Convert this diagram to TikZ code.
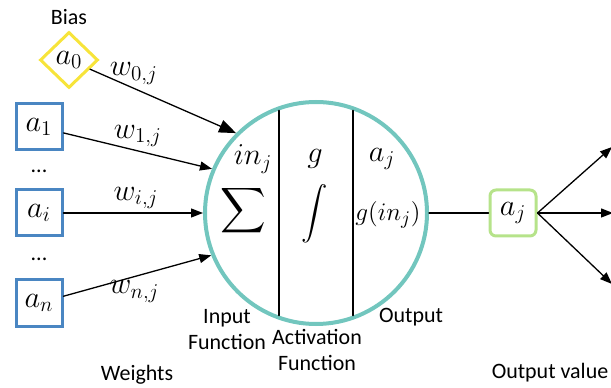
\documentclass[tikz,border=0pt]{standalone}
\usepackage{amsmath,amssymb}
\usepackage{fontspec}
\setmainfont{Carlito}
\usepackage{tikz}
\usetikzlibrary{arrows.meta,shapes.geometric}
\usepackage{xcolor}
\definecolor{biasyellow}{HTML}{F7E43A}
\definecolor{inblue}{HTML}{4A86C2}
\definecolor{cellteal}{HTML}{72C6BE}
\definecolor{outgreen}{HTML}{B6E38A}

\begin{document}
\begin{tikzpicture}[>={Triangle[length=2.4mm,width=1.8mm]},font=\fontsize{12.5}{14.8}\selectfont,line cap=round,
  mathfont/.style={font=\fontsize{18}{18}\selectfont},
  inbox/.style={draw=inblue,line width=0.06cm,minimum size=0.92cm,inner sep=0pt,mathfont},
  bigop/.style={inner sep=0pt,text height=0.42cm,text depth=0.16cm},
  wlabel/.style={mathfont,inner sep=2pt},
  wire/.style={line width=0.026cm}]
\useasboundingbox (0,0) rectangle (12.22,7.74);
\node (bias) at (1.38,7.40) {Bias};
\node[diamond,draw=biasyellow,line width=0.06cm,minimum width=1.16cm,minimum height=1.12cm,inner sep=0pt,mathfont] (a0) at (1.38,6.54) {$a_0$};
\node[inbox] (a1) at (0.78,5.20) {$a_1$};
\node[anchor=base] (dots1) at (0.78,4.28) {...};
\node[inbox] (ai) at (0.78,3.48) {$a_i$};
\node[anchor=base] (dots2) at (0.78,2.52) {...};
\node[inbox] (an) at (0.78,1.68) {$a_n$};
\node (weights) at (2.74,0.24) {Weights};
\node[circle,draw=cellteal,line width=0.08cm,minimum size=4.44cm] (cell) at (6.32,3.48) {};
\draw[line width=0.035cm] (5.58,5.53) -- (5.58,1.43);
\draw[line width=0.035cm] (7.06,5.53) -- (7.06,1.43);
\node[mathfont,inner sep=0pt] (inj) at (5.06,4.56) {$in_j$};
\node[bigop,font=\fontsize{18}{18}\selectfont] (sum) at (4.86,3.50) {$\displaystyle\sum$};
\node[mathfont,inner sep=0pt] (g) at (6.30,4.56) {$g$};
\node[bigop,font=\fontsize{15}{15}\selectfont] (integ) at (6.30,3.46) {$\displaystyle\int$};
\node[mathfont,inner sep=0pt] (aout) at (7.64,4.56) {$a_j$};
\node[font=\fontsize{15}{15}\selectfont,inner sep=0pt] (gin) at (7.76,3.44) {$g(in_j)$};
\node[align=center] (inputfn) at (4.54,1.14) {Input\\Function};
\node[align=center] (actfn) at (6.34,0.74) {Activation\\Function};
\node (output) at (8.22,1.40) {Output};
\draw[wire,->,>={Triangle[length=3.4mm,width=2.6mm]}] (a0) -- (cell.135) node[wlabel,pos=0.3,above] (w0) {$w_{0,j}$};
\draw[wire,->] (a1) -- (cell.157) node[wlabel,pos=0.5,above] (w1) {$w_{1,j}$};
\draw[wire,->] (ai) -- (cell.180) node[wlabel,pos=0.52,above] (wi) {$w_{i,j}$};
\draw[wire,->] (an) -- (cell.202) node[wlabel,pos=0.48,below] (wn) {$w_{n,j}$};
\node[draw=outgreen,line width=0.06cm,rounded corners=0.12cm,minimum size=0.92cm,inner sep=0pt,mathfont] (aj) at (10.26,3.48) {$a_j$};
\draw[wire] (cell.east) -- (aj.west);
\coordinate (o1) at (12.24,4.80);
\coordinate (o2) at (12.26,3.48);
\coordinate (o3) at (12.24,2.06);
\draw[wire,->] (aj.east) -- (o1);
\draw[wire,->] (aj.east) -- (o2);
\draw[wire,->] (aj.east) -- (o3);
\node (outval) at (11.00,0.28) {Output value};
\end{tikzpicture}
\end{document}
